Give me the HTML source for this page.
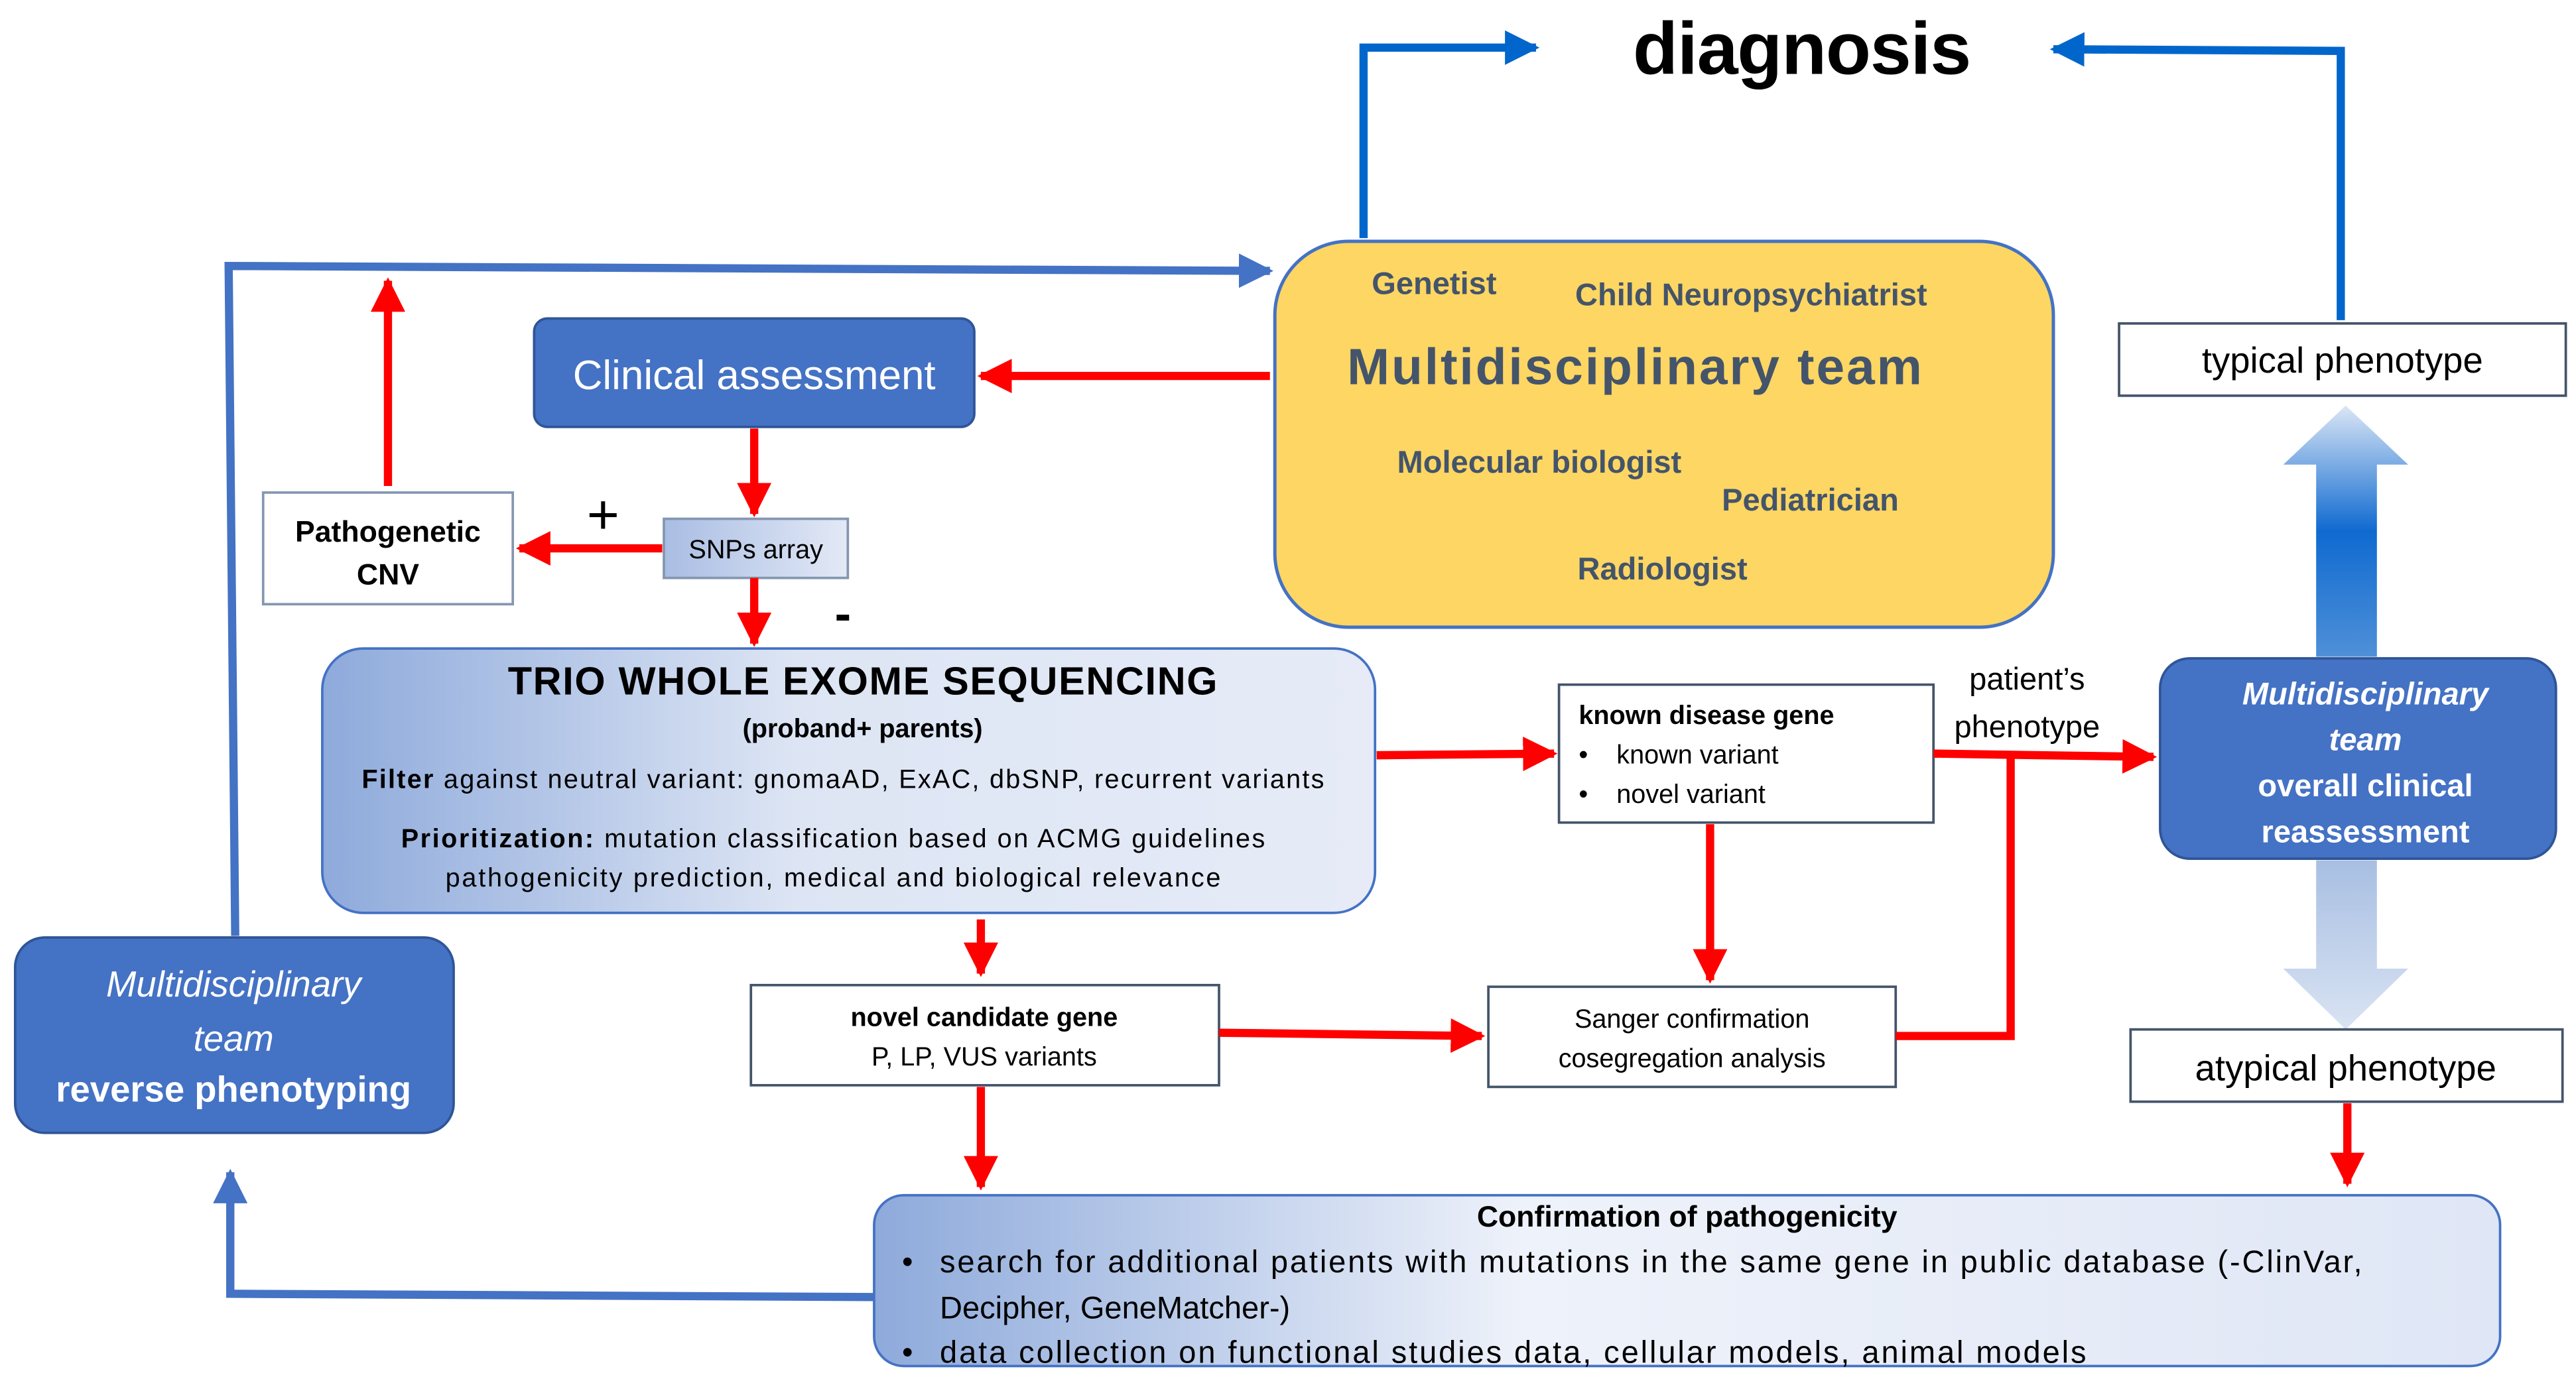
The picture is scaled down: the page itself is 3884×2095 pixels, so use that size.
<!DOCTYPE html>
<html><head><meta charset="utf-8"><style>
html,body{margin:0;padding:0;background:#fff;}
svg{display:block;}
text{font-family:"Liberation Sans",sans-serif;}
</style></head><body>
<svg width="3884" height="2095" viewBox="0 0 1568 846" xmlns="http://www.w3.org/2000/svg">
<defs>
<linearGradient id="g1" x1="0" y1="0" x2="1" y2="0"><stop offset="0" stop-color="#8eaadb"/><stop offset="0.45" stop-color="#dde5f4"/><stop offset="1" stop-color="#e6ebf7"/></linearGradient>
<linearGradient id="g2" x1="0" y1="0" x2="1" y2="0"><stop offset="0" stop-color="#8eaadb"/><stop offset="0.4" stop-color="#eef2fa"/><stop offset="1" stop-color="#dfe6f5"/></linearGradient>
<linearGradient id="g3" x1="0" y1="0" x2="1" y2="0"><stop offset="0" stop-color="#a9bde3"/><stop offset="1" stop-color="#e3e9f6"/></linearGradient>
<linearGradient id="up" x1="0" y1="0" x2="0" y2="1"><stop offset="0" stop-color="#dbe6f5"/><stop offset="0.5" stop-color="#0f6ad0"/><stop offset="1" stop-color="#4f90d8"/></linearGradient>
<linearGradient id="dn" x1="0" y1="0" x2="0" y2="1"><stop offset="0" stop-color="#a8bfe2"/><stop offset="1" stop-color="#d9e3f3"/></linearGradient>
<marker id="ar" viewBox="0 0 10 10" refX="9" refY="5" markerWidth="4.2" markerHeight="4.2" orient="auto" markerUnits="strokeWidth"><path d="M0,0 L10,5 L0,10 z" fill="#ff0000"/></marker>
<marker id="ab" viewBox="0 0 10 10" refX="9" refY="5" markerWidth="4.2" markerHeight="4.2" orient="auto" markerUnits="strokeWidth"><path d="M0,0 L10,5 L0,10 z" fill="#0066cc"/></marker>
<marker id="ab2" viewBox="0 0 10 10" refX="9" refY="5" markerWidth="4.2" markerHeight="4.2" orient="auto" markerUnits="strokeWidth"><path d="M0,0 L10,5 L0,10 z" fill="#4472c4"/></marker>
</defs>

<text x="1097" y="45" font-size="45" font-weight="bold" text-anchor="middle" fill="#000" textLength="206">diagnosis</text>
<polyline points="830,145 830,29 935,29" fill="none" stroke="#0066cc" stroke-width="5" marker-end="url(#ab)"/>
<polyline points="1425,195 1425,31 1250,30" fill="none" stroke="#0066cc" stroke-width="5" marker-end="url(#ab)"/>

<polyline points="143,570 139,162 773,165" fill="none" stroke="#4472c4" stroke-width="5" marker-end="url(#ab2)"/>
<polyline points="532,790 140,788 140,714" fill="none" stroke="#4472c4" stroke-width="5" marker-end="url(#ab2)"/>

<rect x="776" y="147" width="474" height="235" rx="45" fill="#fdd663" stroke="#4472c4" stroke-width="2"/>
<g fill="#44546a" font-weight="bold">
<text x="873" y="179" font-size="19" text-anchor="middle">Genetist</text>
<text x="1066" y="186" font-size="19" text-anchor="middle">Child Neuropsychiatrist</text>
<text x="995" y="234" font-size="31" text-anchor="middle" textLength="350">Multidisciplinary team</text>
<text x="937" y="288" font-size="19" text-anchor="middle">Molecular biologist</text>
<text x="1102" y="311" font-size="19" text-anchor="middle">Pediatrician</text>
<text x="1012" y="353" font-size="19" text-anchor="middle">Radiologist</text>
</g>

<rect x="325" y="194" width="268" height="66" rx="8" fill="#4472c4" stroke="#2f5597" stroke-width="1.5"/>
<text x="459" y="237" font-size="25" fill="#fff" text-anchor="middle">Clinical assessment</text>
<line x1="773" y1="229" x2="597" y2="229" stroke="#ff0000" stroke-width="5" marker-end="url(#ar)"/>
<line x1="459" y1="261" x2="459" y2="313" stroke="#ff0000" stroke-width="5" marker-end="url(#ar)"/>

<rect x="404" y="316" width="112" height="36" fill="url(#g3)" stroke="#8497b0" stroke-width="1.5"/>
<text x="460" y="340" font-size="16" text-anchor="middle" fill="#000">SNPs array</text>
<line x1="403" y1="334" x2="316" y2="334" stroke="#ff0000" stroke-width="5" marker-end="url(#ar)"/>
<text x="367" y="325" font-size="34" text-anchor="middle" fill="#000">+</text>
<text x="513" y="384" font-size="30" font-weight="bold" text-anchor="middle" fill="#000">-</text>
<rect x="160" y="300" width="152" height="68" fill="#fff" stroke="#8497b0" stroke-width="1.5"/>
<text x="236" y="330" font-size="18" font-weight="bold" text-anchor="middle">Pathogenetic</text>
<text x="236" y="356" font-size="18" font-weight="bold" text-anchor="middle">CNV</text>
<line x1="236" y1="296" x2="236" y2="171" stroke="#ff0000" stroke-width="5" marker-end="url(#ar)"/>
<line x1="459" y1="352" x2="459" y2="392" stroke="#ff0000" stroke-width="5" marker-end="url(#ar)"/>

<rect x="196" y="395" width="641" height="161" rx="25" fill="url(#g1)" stroke="#4472c4" stroke-width="1.5"/>
<text x="525" y="423" font-size="24" font-weight="bold" text-anchor="middle" textLength="432">TRIO WHOLE EXOME SEQUENCING</text>
<text x="525" y="449" font-size="16" font-weight="bold" text-anchor="middle">(proband+ parents)</text>
<text x="513" y="480" font-size="16" text-anchor="middle" textLength="586"><tspan font-weight="bold">Filter</tspan> against neutral variant: gnomaAD, ExAC, dbSNP, recurrent variants</text>
<text x="507" y="516" font-size="16" text-anchor="middle" textLength="526"><tspan font-weight="bold">Prioritization:</tspan> mutation classification based on ACMG guidelines</text>
<text x="507" y="540" font-size="16" text-anchor="middle" textLength="472">pathogenicity prediction, medical and biological relevance</text>

<line x1="838" y1="460" x2="946" y2="459" stroke="#ff0000" stroke-width="5" marker-end="url(#ar)"/>
<rect x="949" y="417" width="228" height="84" fill="#fff" stroke="#44546a" stroke-width="1.5"/>
<text x="961" y="441" font-size="16" font-weight="bold">known disease gene</text>
<text x="961" y="465" font-size="16">•<tspan x="984">known variant</tspan></text>
<text x="961" y="489" font-size="16">•<tspan x="984">novel variant</tspan></text>
<text x="1234" y="420" font-size="19" text-anchor="middle">patient’s</text>
<text x="1234" y="449" font-size="19" text-anchor="middle">phenotype</text>
<line x1="1177" y1="459" x2="1311" y2="461" stroke="#ff0000" stroke-width="5" marker-end="url(#ar)"/>
<line x1="1041" y1="502" x2="1041" y2="597" stroke="#ff0000" stroke-width="5" marker-end="url(#ar)"/>
<rect x="906" y="601" width="248" height="61" fill="#fff" stroke="#44546a" stroke-width="1.5"/>
<text x="1030" y="626" font-size="16" text-anchor="middle">Sanger confirmation</text>
<text x="1030" y="650" font-size="16" text-anchor="middle">cosegregation analysis</text>
<polyline points="1154,631 1224,631 1224,460" fill="none" stroke="#ff0000" stroke-width="5"/>

<line x1="597" y1="560" x2="597" y2="593" stroke="#ff0000" stroke-width="5" marker-end="url(#ar)"/>
<rect x="457" y="600" width="285" height="61" fill="#fff" stroke="#44546a" stroke-width="1.5"/>
<text x="599" y="625" font-size="16" font-weight="bold" text-anchor="middle">novel candidate gene</text>
<text x="599" y="649" font-size="16" text-anchor="middle">P, LP, VUS variants</text>
<line x1="742" y1="629" x2="902" y2="631" stroke="#ff0000" stroke-width="5" marker-end="url(#ar)"/>
<line x1="597" y1="662" x2="597" y2="723" stroke="#ff0000" stroke-width="5" marker-end="url(#ar)"/>

<rect x="532" y="728" width="990" height="104" rx="18" fill="url(#g2)" stroke="#4472c4" stroke-width="1.5"/>
<text x="1027" y="747" font-size="18" font-weight="bold" text-anchor="middle">Confirmation of pathogenicity</text>
<text x="549" y="775" font-size="19">•</text>
<text x="572" y="775" font-size="19" textLength="866">search for additional patients with mutations in the same gene in public database (-ClinVar,</text>
<text x="572" y="803" font-size="19">Decipher, GeneMatcher-)</text>
<text x="549" y="830" font-size="19">•</text>
<text x="572" y="830" font-size="19" textLength="698">data collection on functional studies data, cellular models, animal models</text>

<rect x="9" y="571" width="267" height="119" rx="18" fill="#4472c4" stroke="#2f5597" stroke-width="1.5"/>
<text x="142" y="607" font-size="22" font-style="italic" fill="#fff" text-anchor="middle">Multidisciplinary</text>
<text x="142" y="640" font-size="22" font-style="italic" fill="#fff" text-anchor="middle">team</text>
<text x="142" y="671" font-size="22" font-weight="bold" fill="#fff" text-anchor="middle">reverse phenotyping</text>

<rect x="1290" y="197" width="272" height="44" fill="#fff" stroke="#44546a" stroke-width="1.5"/>
<text x="1426" y="227" font-size="22" text-anchor="middle">typical phenotype</text>
<path d="M1410,400 L1410,283 L1390,283 L1428,247 L1466,283 L1447,283 L1447,400 Z" fill="url(#up)"/>
<path d="M1410,524 L1410,590 L1390,590 L1428,627 L1466,590 L1447,590 L1447,524 Z" fill="url(#dn)"/>
<rect x="1315" y="401" width="241" height="122" rx="18" fill="#4472c4" stroke="#2f5597" stroke-width="1.5"/>
<g fill="#fff" font-weight="bold" font-size="19" text-anchor="middle">
<text x="1440" y="429" font-style="italic">Multidisciplinary</text>
<text x="1440" y="457" font-style="italic">team</text>
<text x="1440" y="485">overall clinical</text>
<text x="1440" y="513">reassessment</text>
</g>
<rect x="1297" y="627" width="263" height="44" fill="#fff" stroke="#44546a" stroke-width="1.5"/>
<text x="1428" y="658" font-size="22" text-anchor="middle">atypical phenotype</text>
<line x1="1429" y1="672" x2="1429" y2="721" stroke="#ff0000" stroke-width="5" marker-end="url(#ar)"/>
</svg>
</body></html>
